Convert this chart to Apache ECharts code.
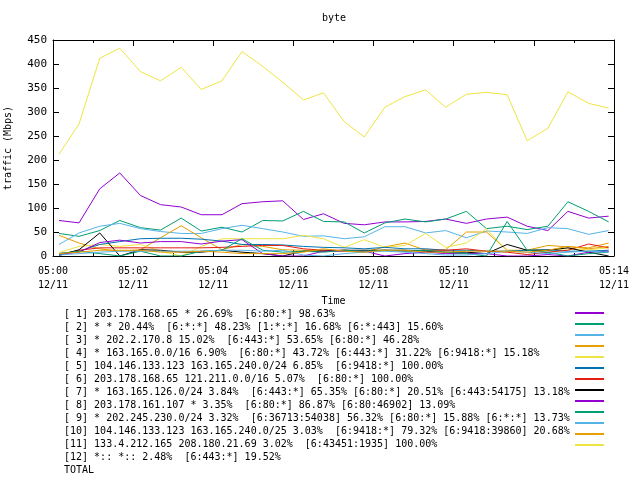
<!DOCTYPE html>
<html><head><meta charset="utf-8">
<script src="https://cdn.jsdelivr.net/npm/echarts@6/dist/echarts.min.js"></script>
<style>html,body{margin:0;padding:0;background:#fff}#c{width:640px;height:480px}</style>
</head><body><div id="c"></div>
<script>
// sample times (12/11)
const times = ["05:00:09","05:00:39","05:01:10","05:01:40","05:02:11","05:02:41","05:03:12","05:03:42",
  "05:04:13","05:04:43","05:05:14","05:05:44","05:06:15","05:06:45","05:07:16","05:07:46","05:08:17",
  "05:08:47","05:09:18","05:09:48","05:10:19","05:10:49","05:11:20","05:11:50","05:12:21","05:12:51",
  "05:13:22","05:13:52"];

const xTickLabels = ["05:00\n12/11","05:02\n12/11","05:04\n12/11","05:06\n12/11","05:08\n12/11","05:10\n12/11","05:12\n12/11","05:14\n12/11"];
const yTickLabels = ["0","50","100","150","200","250","300","350","400","450"];

const names = [
  "[ 1] 203.178.168.65 * 26.69%  [6:80:*] 98.63%",
  "[ 2] * * 20.44%  [6:*:*] 48.23% [1:*:*] 16.68% [6:*:443] 15.60%",
  "[ 3] * 202.2.170.8 15.02%  [6:443:*] 53.65% [6:80:*] 46.28%",
  "[ 4] * 163.165.0.0/16 6.90%  [6:80:*] 43.72% [6:443:*] 31.22% [6:9418:*] 15.18%",
  "[ 5] 104.146.133.123 163.165.240.0/24 6.85%  [6:9418:*] 100.00%",
  "[ 6] 203.178.168.65 121.211.0.0/16 5.07%  [6:80:*] 100.00%",
  "[ 7] * 163.165.126.0/24 3.84%  [6:443:*] 65.35% [6:80:*] 20.51% [6:443:54175] 13.18%",
  "[ 8] 203.178.161.107 * 3.35%  [6:80:*] 86.87% [6:80:46902] 13.09%",
  "[ 9] * 202.245.230.0/24 3.32%  [6:36713:54038] 56.32% [6:80:*] 15.88% [6:*:*] 13.73%",
  "[10] 104.146.133.123 163.165.240.0/25 3.03%  [6:9418:*] 79.32% [6:9418:39860] 20.68%",
  "[11] 133.4.212.165 208.180.21.69 3.02%  [6:43451:1935] 100.00%",
  "[12] *:: *:: 2.48%  [6:443:*] 19.52%",
  "TOTAL"
];

const s1  = [74, 69, 140, 173, 126, 107, 102, 86, 86, 109, 113, 115, 76, 88, 68, 65, 71, 71, 72, 77, 68, 77, 81, 62, 53, 93, 79, 83];
const s2  = [47, 41, 53, 74, 59, 54, 79, 52, 60, 50, 74, 73, 93, 72, 71, 48, 69, 77, 71, 77, 93, 57, 62, 55, 62, 113, 93, 71];
const s3  = [24, 48, 62, 68, 57, 51, 47, 47, 57, 64, 57, 50, 41, 42, 36, 40, 61, 61, 48, 53, 38, 52, 50, 47, 59, 57, 45, 53];
const s4  = [43, 27, 15, 10, 13, 38, 63, 38, 13, 24, 20, 13, 12, 12, 10, 8, 19, 27, 12, 13, 50, 50, 12, 12, 22, 19, 17, 27];
const s5  = [7, 20, 24, 20, 24, 10, 0, 20, 36, 36, 36, 36, 43, 36, 18, 34, 18, 22, 47, 18, 27, 57, 10, 12, 13, 15, 13, 17];
const s6  = [5, 10, 24, 30, 36, 37, 37, 35, 31, 24, 24, 23, 20, 18, 17, 15, 18, 15, 15, 12, 12, 10, 10, 12, 13, 10, 10, 12];
const s7  = [3, 12, 17, 17, 17, 17, 17, 17, 18, 20, 22, 22, 15, 12, 12, 10, 12, 10, 12, 12, 15, 10, 8, 3, 8, 12, 25, 17];
const s8  = [1, 13, 48, 0, 13, 12, 8, 8, 12, 8, 5, 0, 10, 10, 12, 12, 12, 12, 10, 8, 8, 5, 24, 12, 12, 17, 8, 0];
const s9  = [3, 8, 28, 33, 27, 30, 30, 25, 31, 34, 5, 0, 0, 10, 10, 10, 0, 5, 8, 5, 5, 5, 0, 0, 3, 0, 8, 10];
const s10 = [5, 10, 5, 0, 10, 0, 0, 10, 12, 36, 12, 8, 10, 8, 12, 10, 12, 10, 12, 8, 5, 0, 72, 12, 8, 0, 5, 8];
const s11 = [2, 5, 8, 10, 10, 10, 10, 10, 12, 12, 10, 12, 2, 0, 5, 8, 10, 8, 5, 2, 2, 5, 10, 8, 5, 8, 10, 8];
const s12 = [5, 8, 12, 12, 12, 8, 8, 10, 8, 5, 5, 5, 8, 15, 10, 8, 12, 12, 8, 8, 10, 10, 10, 8, 12, 20, 15, 20];
const total = [212, 275, 412, 433, 384, 365, 393, 347, 365, 426, 395, 362, 325, 340, 280, 248, 310, 332, 346, 310, 337, 341, 336, 240, 266, 342, 318, 308];

const values = [s1, s2, s3, s4, s5, s6, s7, s8, s9, s10, s11, s12, total];
const colors = ["#9400d3","#009e73","#56b4e9","#e69f00","#f0e442","#0072b2","#e51e10","#000000",
                "#9400d3","#009e73","#56b4e9","#e69f00","#f0e442"];

function toMin(t){ const p = t.split(":").map(Number); return (p[0]-5)*60 + p[1] + p[2]/60; }
const xs = times.map(toMin);

const MONO = "DejaVu Sans Mono";
const chart = echarts.init(document.getElementById('c'), null, {renderer:'canvas'});

const series = names.map((n, k) => ({
  name: n, type: 'line', symbol: 'none', smooth: false,
  lineStyle: {width: 1, color: colors[k]}, itemStyle: {color: colors[k]},
  data: xs.map((x, i) => [x, values[k][i]]),
  z: 2 + k
}));

const tickCommon = {show: true, inside: true, length: 6, lineStyle: {color: '#000'}};
const minorCommon = {show: true, splitNumber: 2, length: 3, lineStyle: {color: '#000'}};
const lineCommon = {show: true, onZero: false, lineStyle: {color: '#000', width: 1}};

chart.setOption({
  animation: false,
  backgroundColor: '#fff',
  title: {text: 'byte', left: 322, top: 13, padding: 0,
    textStyle: {fontFamily: MONO, fontSize: 10, fontWeight: 'normal', color: '#000'}},
  grid: {left: 53, right: 26, top: 40, bottom: 224, containLabel: false, outerBoundsMode: 'none'},
  xAxis: [{
    type: 'value', min: 0, max: 14, interval: 2, position: 'bottom',
    name: 'Time', nameLocation: 'middle', nameGap: 40,
    nameTextStyle: {fontFamily: MONO, fontSize: 10, color: '#000'},
    axisLine: lineCommon,
    axisTick: tickCommon, minorTick: minorCommon,
    splitLine: {show: false},
    axisLabel: {fontFamily: MONO, fontSize: 10, color: '#000', lineHeight: 14, margin: 8,
      formatter: v => xTickLabels[Math.round(v / 2)] || ''}
  }, {
    type: 'value', min: 0, max: 14, interval: 2, position: 'top',
    axisLine: lineCommon,
    axisTick: tickCommon, minorTick: minorCommon,
    splitLine: {show: false}, axisLabel: {show: false}
  }],
  yAxis: [{
    type: 'value', min: 0, max: 450, interval: 50, position: 'left',
    name: 'traffic (Mbps)', nameLocation: 'middle', nameGap: 40, nameRotate: 90,
    nameTextStyle: {fontFamily: MONO, fontSize: 10, color: '#000'},
    axisLine: lineCommon,
    axisTick: tickCommon, splitLine: {show: false},
    axisLabel: {fontFamily: MONO, fontSize: 11, color: '#000', margin: 6,
      formatter: v => yTickLabels[Math.round(v / 50)]}
  }, {
    type: 'value', min: 0, max: 450, interval: 50, position: 'right',
    axisLine: lineCommon,
    axisTick: tickCommon, splitLine: {show: false}, axisLabel: {show: false}
  }],
  legend: [{
    orient: 'vertical', left: 55, top: 309, padding: 0, itemGap: 3,
    itemWidth: 0, itemHeight: 10, selectedMode: false,
    itemStyle: {opacity: 0}, lineStyle: {opacity: 0},
    textStyle: {fontFamily: MONO, fontSize: 10, color: '#000', lineHeight: 10},
    data: names
  }, {
    orient: 'vertical', left: 574, top: 309, padding: 0, itemGap: 3,
    itemWidth: 29, itemHeight: 10, selectedMode: false,
    itemStyle: {opacity: 0},
    formatter: () => '',
    textStyle: {fontSize: 10, lineHeight: 10},
    data: names
  }],
  series: series
});
</script>
</body></html>
